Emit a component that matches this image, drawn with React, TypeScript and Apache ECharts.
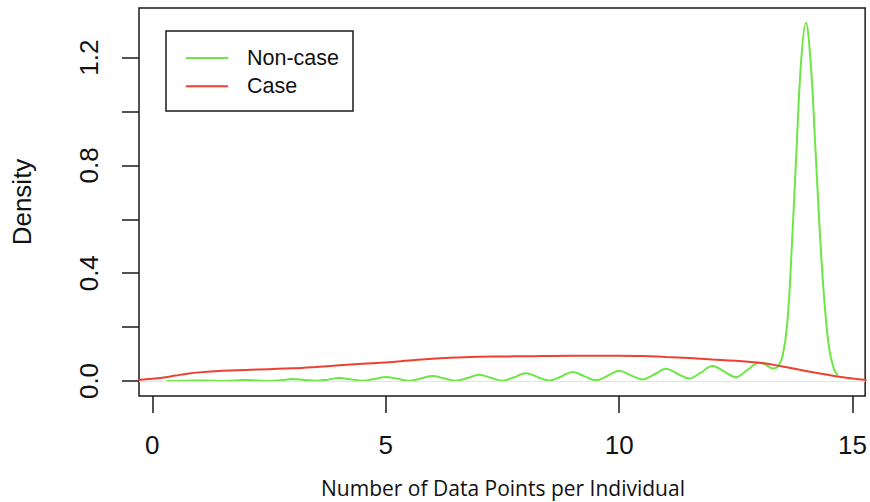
import React, { useEffect, useRef } from "react";
import * as echarts from "echarts";

// Non-case density (green)
const nonCaseX = [
  0.3, 0.5, 0.75, 1.0, 1.25, 1.5, 1.75, 2.0, 2.25, 2.5, 2.75, 3.0, 3.25, 3.5, 3.75,
  4.0, 4.25, 4.5, 4.75, 5.0, 5.25, 5.5, 5.75, 6.0, 6.25, 6.5, 6.75, 7.0, 7.25, 7.5,
  7.75, 8.0, 8.25, 8.5, 8.75, 9.0, 9.25, 9.5, 9.75, 10.0, 10.25, 10.5, 10.75, 11.0,
  11.25, 11.5, 11.75, 12.0, 12.25, 12.5, 12.75, 13.0, 13.1, 13.2, 13.3, 13.4, 13.5,
  13.6, 13.7, 13.8, 13.9, 14.0, 14.1, 14.2, 14.3, 14.4, 14.5, 14.6, 14.68,
];
const nonCaseY = [
  0.0, 0.0, 0.001, 0.002, 0.001, 0.0, 0.002, 0.004, 0.002, 0.0, 0.003, 0.007, 0.004, 0.001, 0.005,
  0.011, 0.006, 0.001, 0.007, 0.015, 0.008, 0.001, 0.009, 0.019, 0.010, 0.001, 0.011, 0.023, 0.012, 0.001,
  0.014, 0.029, 0.015, 0.002, 0.016, 0.033, 0.018, 0.003, 0.019, 0.038, 0.021, 0.006, 0.024, 0.045,
  0.027, 0.009, 0.031, 0.056, 0.035, 0.014, 0.041, 0.068, 0.064, 0.053, 0.046, 0.053, 0.092,
  0.21, 0.5, 0.86, 1.19, 1.33, 1.19, 0.88, 0.55, 0.29, 0.12, 0.045, 0.022,
];

// Case density (red)
const caseX = [
  -0.3, 0.0, 0.25, 0.5, 0.75, 1.0, 1.5, 2.0, 2.5, 3.0, 3.5, 4.0, 4.5, 5.0, 5.5, 6.0,
  6.5, 7.0, 7.5, 8.0, 9.0, 10.0, 10.5, 11.0, 11.5, 12.0, 12.5, 13.0, 13.5, 14.0, 14.5,
  15.0, 15.3,
];
const caseY = [
  0.004, 0.008, 0.013, 0.02, 0.027, 0.032, 0.038, 0.041, 0.044, 0.047, 0.052, 0.058, 0.064, 0.069, 0.076, 0.083,
  0.087, 0.09, 0.091, 0.092, 0.094, 0.094, 0.093, 0.089, 0.085, 0.08, 0.075, 0.068, 0.054, 0.037, 0.022,
  0.009, 0.004,
];

const xTicks = [0, 5, 10, 15];
const yTicks = [0, 0.2, 0.4, 0.6, 0.8, 1.0, 1.2];
const yLabels = [0, 0.4, 0.8, 1.2];
const seriesNames = ["Non-case", "Case"];

export default function App() {
  const ref = useRef<HTMLDivElement>(null);
  useEffect(() => {
    if (!ref.current) return;
    const chart = echarts.init(ref.current, null, { renderer: "svg" });
    const toPairs = (xs: number[], ys: number[]) => xs.map((x, i) => [x, ys[i]]);
    const font = "'Liberation Sans', Arial, sans-serif";
    chart.setOption({
      animation: false,
      backgroundColor: "#fff",
      grid: {
        left: 139,
        top: 8,
        right: 4,
        bottom: 106,
        show: true,
        borderColor: "#1a1a1a",
        borderWidth: 1.5,
        backgroundColor: "transparent",
      },
      xAxis: {
        type: "value",
        min: -0.285,
        max: 15.27,
        axisLine: { show: false, onZero: false },
        splitLine: { show: false },
        axisTick: {
          show: true,
          length: 17,
          customValues: xTicks,
          lineStyle: { color: "#1a1a1a", width: 1.5 },
        },
        axisLabel: {
          customValues: xTicks,
          margin: 36,
          fontSize: 26,
          fontFamily: font,
          color: "#111",
        },
      },
      yAxis: {
        type: "value",
        min: -0.0557,
        max: 1.3845,
        axisLine: { show: false, onZero: false },
        splitLine: { show: false },
        axisTick: {
          show: true,
          length: 17,
          customValues: yTicks,
          lineStyle: { color: "#1a1a1a", width: 1.5 },
        },
        axisLabel: {
          customValues: yLabels,
          rotate: 90,
          margin: 37,
          fontSize: 26,
          fontFamily: font,
          color: "#111",
          formatter: (v: number) => v.toFixed(1),
        },
      },
      legend: {
        orient: "vertical",
        left: 186,
        top: 47,
        padding: 0,
        icon: "rect",
        itemWidth: 42,
        itemHeight: 2,
        itemGap: 6.3,
        data: seriesNames,
        textStyle: {
          fontSize: 21.5,
          lineHeight: 20,
          fontFamily: font,
          color: "#111",
          padding: [0, 0, 0, 14],
        },
      },
      graphic: [
        {
          type: "rect",
          shape: { x: 166, y: 31, width: 187, height: 80 },
          style: { fill: "none", stroke: "#1a1a1a", lineWidth: 1.5 },
          silent: true,
        },
        {
          type: "text",
          x: 503,
          y: 488,
          style: {
            text: "Number of Data Points per Individual",
            font: "21px 'Open Sans', sans-serif",
            fill: "#111",
            textAlign: "center",
            textVerticalAlign: "middle",
          },
        },
        {
          type: "text",
          x: 22,
          y: 202,
          rotation: Math.PI / 2,
          style: {
            text: "Density",
            font: "26px 'Liberation Sans', Arial, sans-serif",
            fill: "#111",
            textAlign: "center",
            textVerticalAlign: "middle",
          },
        },
      ],
      series: [
        {
          name: seriesNames[0],
          type: "line",
          data: toPairs(nonCaseX, nonCaseY),
          smooth: 0.4,
          symbol: "none",
          lineStyle: { color: "#6ee646", width: 2 },
          itemStyle: { color: "#6ee646" },
          z: 3,
          markLine: {
            silent: true,
            symbol: "none",
            label: { show: false },
            lineStyle: { color: "#e3e3e3", width: 1, type: "solid" },
            data: [{ yAxis: 0 }],
          },
        },
        {
          name: seriesNames[1],
          type: "line",
          data: toPairs(caseX, caseY),
          smooth: 0.4,
          symbol: "none",
          lineStyle: { color: "#ee4030", width: 2 },
          itemStyle: { color: "#ee4030" },
          z: 4,
        },
      ],
    });
    return () => chart.dispose();
  }, []);
  return (
    <div
      ref={ref}
      style={{ position: "fixed", left: 0, top: 0, width: 870, height: 502 }}
    />
  );
}
